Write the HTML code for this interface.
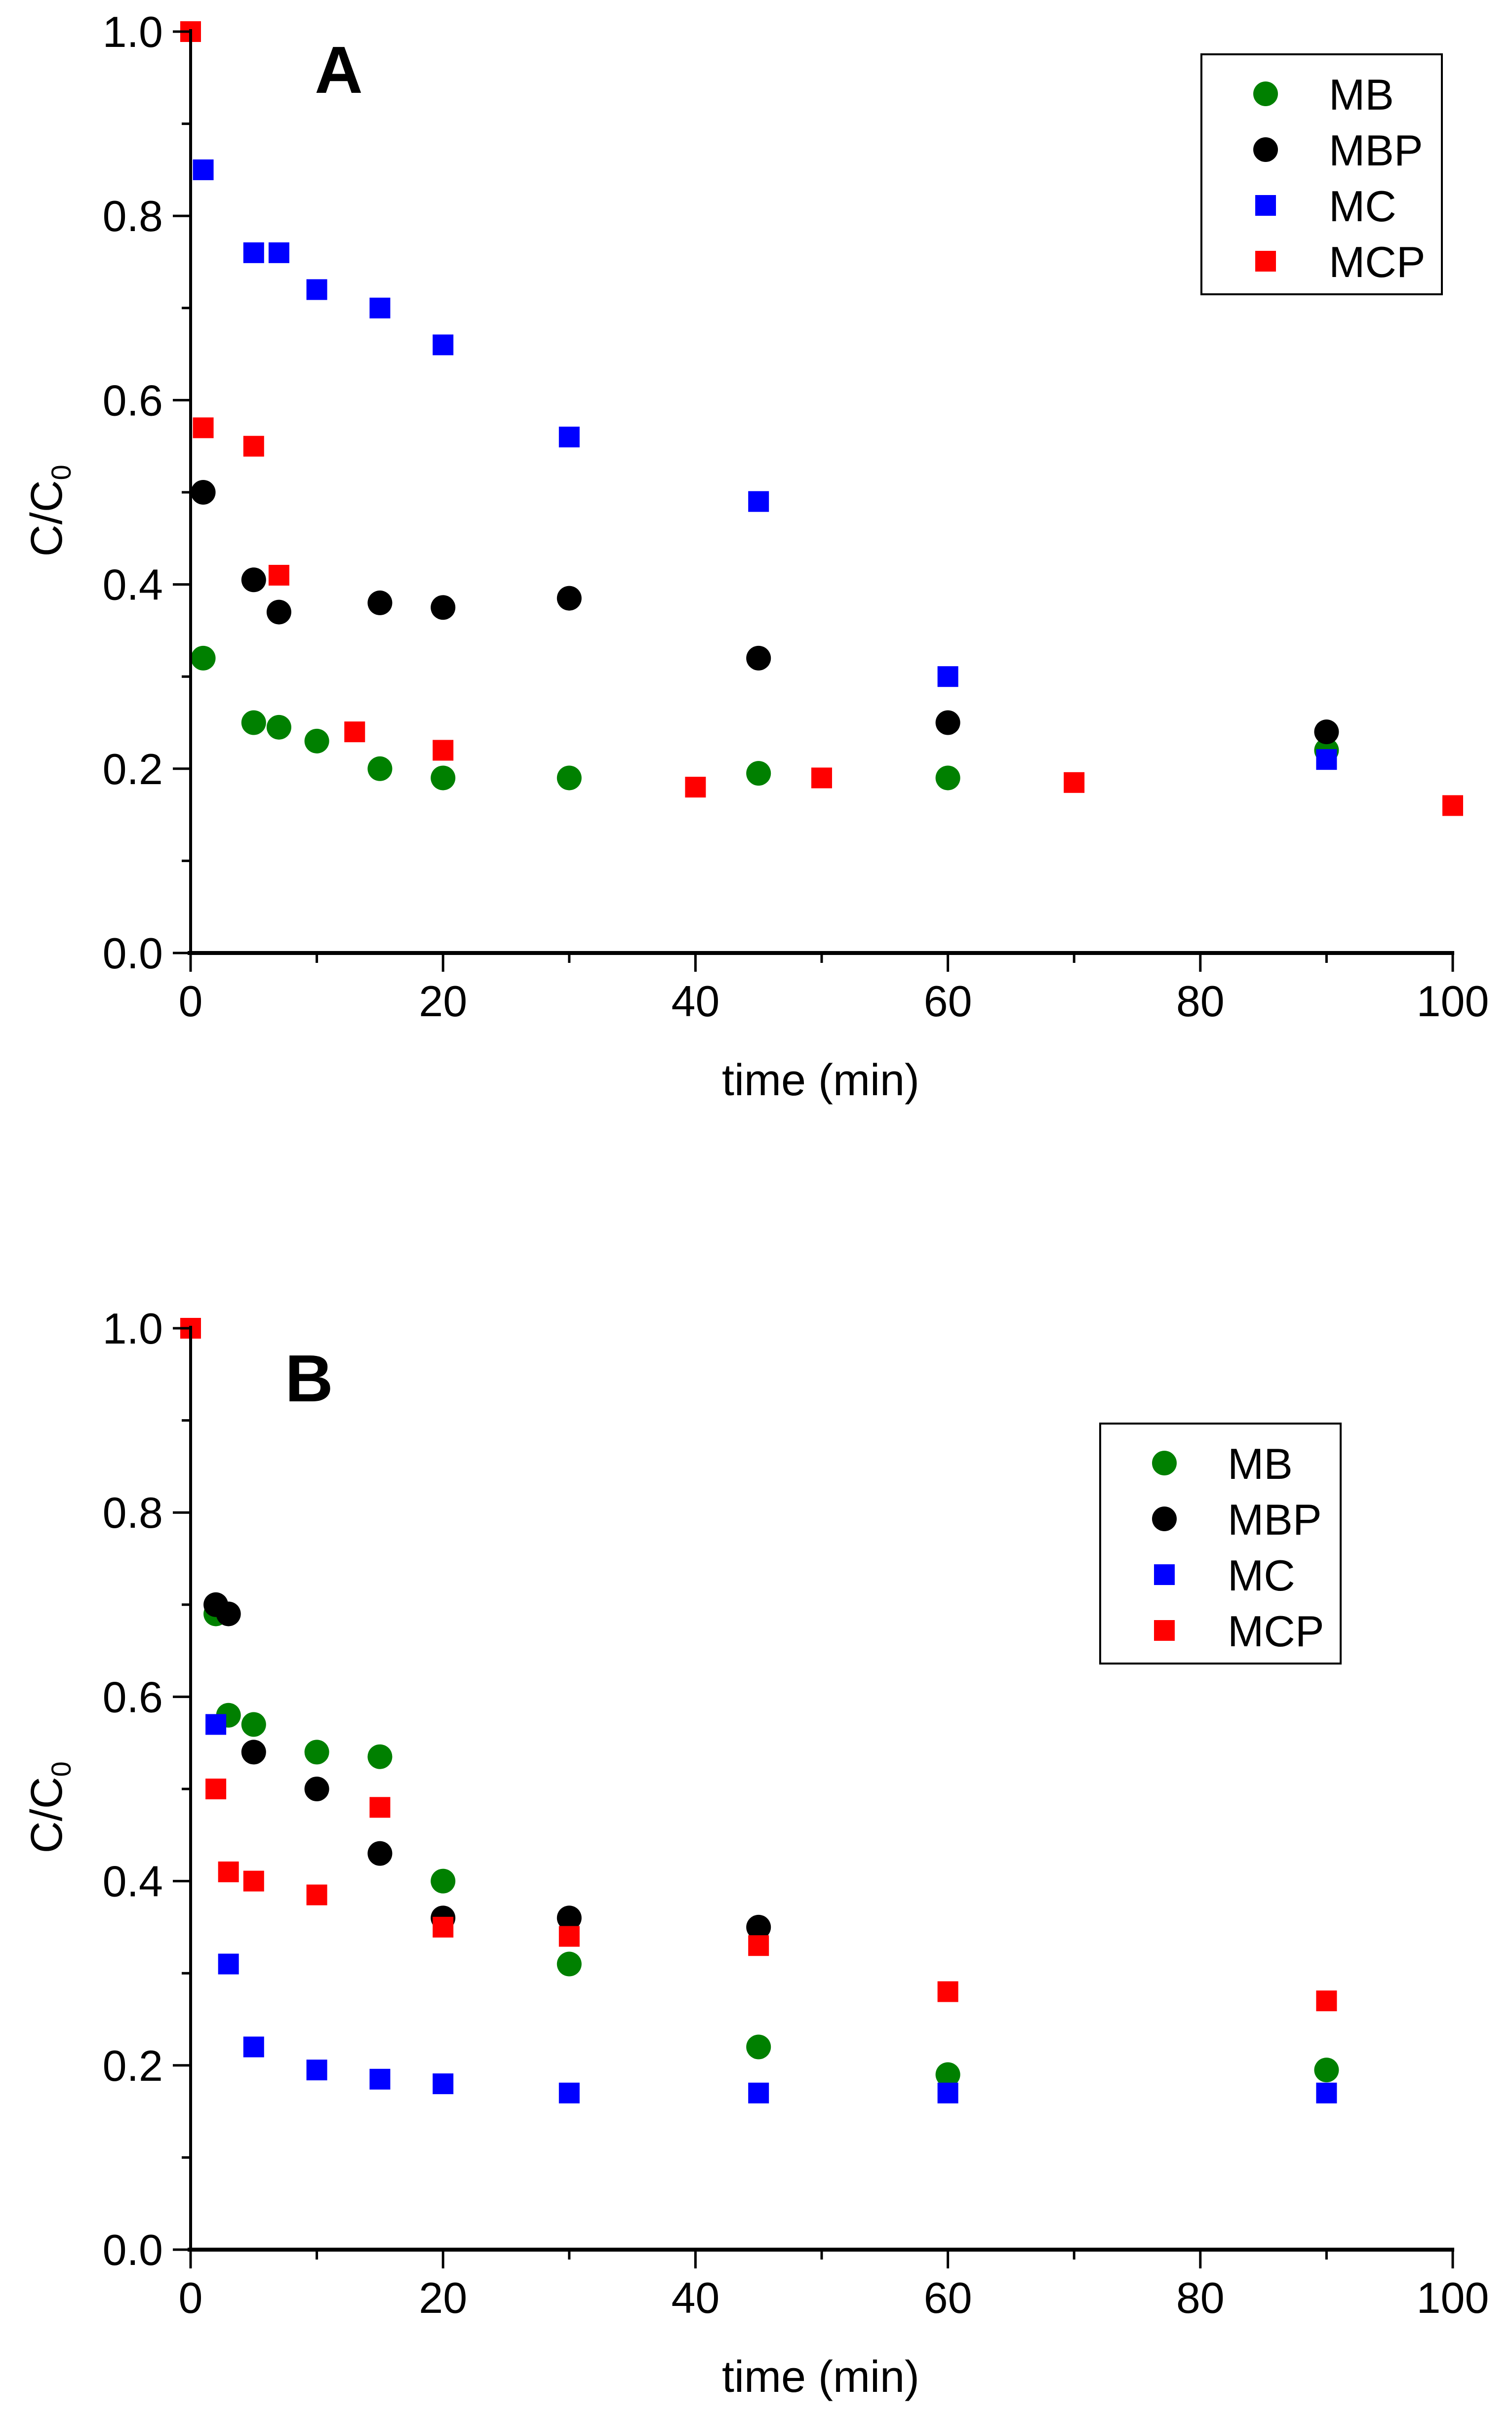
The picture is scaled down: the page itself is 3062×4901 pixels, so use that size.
<!DOCTYPE html>
<html><head><meta charset="utf-8"><style>
html,body{margin:0;padding:0;background:#fff}
svg{display:block;font-family:"Liberation Sans",Arial,sans-serif}
</style></head><body>
<svg id="chart" width="3062" height="4901" viewBox="0 0 3062 4901" xmlns="http://www.w3.org/2000/svg"></svg>
<script>
const xTicks=[0,20,40,60,80,100];
const yTicks=[0.0,0.2,0.4,0.6,0.8,1.0];
const seriesNames=["MB","MBP","MC","MCP"];
const seriesColors=["#008000","#000000","#0000ff","#ff0000"];
const seriesShapes=["circle","circle","square","square"];
// Panel A
const aMBx=[1,5,7,10,15,20,30,45,60,90];
const aMBy=[0.32,0.25,0.245,0.23,0.2,0.19,0.19,0.195,0.19,0.22];
const aMBPx=[1,5,7,15,20,30,45,60,90];
const aMBPy=[0.5,0.405,0.37,0.38,0.375,0.385,0.32,0.25,0.24];
const aMCx=[1,5,7,10,15,20,30,45,60,90];
const aMCy=[0.85,0.76,0.76,0.72,0.70,0.66,0.56,0.49,0.30,0.21];
const aMCPx=[0,1,5,7,13,20,40,50,70,100];
const aMCPy=[1.0,0.57,0.55,0.41,0.24,0.22,0.18,0.19,0.185,0.16];
// Panel B
const bMBx=[2,3,5,10,15,20,30,45,60,90];
const bMBy=[0.69,0.58,0.57,0.54,0.535,0.40,0.31,0.22,0.19,0.195];
const bMBPx=[2,3,5,10,15,20,30,45];
const bMBPy=[0.70,0.69,0.54,0.50,0.43,0.36,0.36,0.35];
const bMCx=[2,3,5,10,15,20,30,45,60,90];
const bMCy=[0.57,0.31,0.22,0.195,0.185,0.18,0.17,0.17,0.17,0.17];
const bMCPx=[0,2,3,5,10,15,20,30,45,60,90];
const bMCPy=[1.0,0.50,0.41,0.40,0.385,0.48,0.35,0.34,0.33,0.28,0.27];

const NS="http://www.w3.org/2000/svg";
const svg=document.getElementById('chart');
function mk(tag,attrs,parent){const e=document.createElementNS(NS,tag);for(const k in attrs)e.setAttribute(k,attrs[k]);(parent||svg).appendChild(e);return e;}

function panel(id,top,bottom,letter,letterPos,legend,data){
  const x0=386,x1=2942;
  const sx=v=>x0+(x1-x0)*v/100;
  const sy=v=>bottom-(bottom-top)*v;
  const g=mk('g',{});
  
  
  data.forEach((s,i)=>{
    const sg=mk('g',{},g);
    
    
    s[0].forEach((xv,j)=>{
      const cx=sx(xv),cy=sy(s[1][j]);let m;
      if(seriesShapes[i]==='circle') m=mk('circle',{cx:cx,cy:cy,r:25,fill:seriesColors[i]},sg);
      else m=mk('rect',{x:cx-21,y:cy-21,width:42,height:42,fill:seriesColors[i]},sg);
      
      
    });
  });
  const ya=mk('line',{x1:x0,y1:top-5,x2:x0,y2:bottom,stroke:'#000','stroke-width':6},g);
  
  
  const xa=mk('line',{x1:x0-6,y1:bottom,x2:x1+3,y2:bottom,stroke:'#000','stroke-width':8},g);
  
  
  for(let v=0;v<=100;v+=10){
    const major=v%20===0;
    mk('line',{x1:sx(v),y1:bottom,x2:sx(v),y2:bottom+(major?38:20),stroke:'#000','stroke-width':5},g);
  }
  xTicks.forEach(v=>{
    const t=mk('text',{x:sx(v),y:bottom+128,'font-size':88,'text-anchor':'middle'},g);
    t.textContent=String(v);
    
    
  });
  for(let k=0;k<=10;k++){
    const major=k%2===0;const v=k/10;
    mk('line',{x1:x0,y1:sy(v),x2:x0-(major?36:18),y2:sy(v),stroke:'#000','stroke-width':5},g);
  }
  yTicks.forEach(v=>{
    const t=mk('text',{x:x0-56,y:sy(v)+31,'font-size':88,'text-anchor':'end'},g);
    t.textContent=v.toFixed(1);
    
    
  });
  const xl=mk('text',{x:1662,y:bottom+288,'font-size':90,'text-anchor':'middle'},g);
  xl.textContent='time (min)';
  
  
  const yc=top+(bottom-top)*0.52;
  const yl=mk('text',{x:0,y:0,'font-size':90,'text-anchor':'middle',transform:`translate(125,${yc}) rotate(-90)`},g);
  yl.innerHTML='C/C<tspan font-size="56" dy="18">0</tspan>';
  
  
  const L=mk('text',{x:letterPos[0],y:letterPos[1],'font-size':135,'font-weight':'bold','text-anchor':'middle'},g);
  L.textContent=letter;
  
  
  const lg=mk('g',{},g);
  
  
  mk('rect',{x:legend[0],y:legend[1],width:487,height:486,fill:'#fff',stroke:'#000','stroke-width':4},lg);
  seriesNames.forEach((n,i)=>{
    const ey=legend[1]+80+i*113;
    const eg=mk('g',{},lg);
    
    
    const mx=legend[0]+130;
    if(seriesShapes[i]==='circle') mk('circle',{cx:mx,cy:ey,r:25,fill:seriesColors[i]},eg);
    else mk('rect',{x:mx-21,y:ey-21,width:42,height:42,fill:seriesColors[i]},eg);
    const t=mk('text',{x:legend[0]+258,y:ey+32,'font-size':88},eg);
    t.textContent=n;
  });
}
panel('a',64,1930,'A',[686,188],[2433,110],[[aMBx,aMBy],[aMBPx,aMBPy],[aMCx,aMCy],[aMCPx,aMCPy]]);
panel('b',2690,4556,'B',[626,2838],[2228,2883],[[bMBx,bMBy],[bMBPx,bMBPy],[bMCx,bMCy],[bMCPx,bMCPy]]);
</script>
</body></html>
